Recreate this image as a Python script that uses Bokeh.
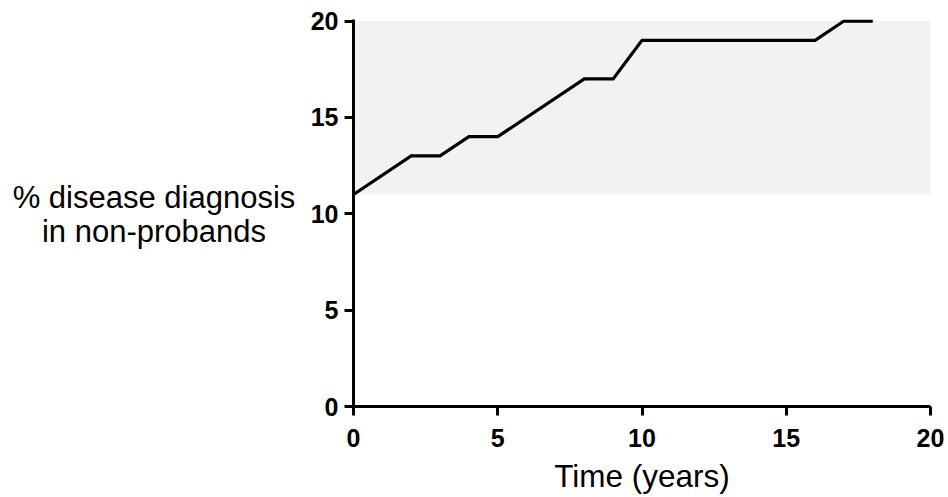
from bokeh.plotting import figure
from bokeh.models import Range1d, FixedTicker
from bokeh.layouts import row
from bokeh.core.properties import value
from bokeh.embed import file_html
from bokeh.resources import INLINE

# Data
time_years = [0, 2, 3, 4, 5, 8, 9, 10, 16, 17, 18]
pct_diagnosis = [11, 13, 13, 14, 14, 17, 17, 19, 19, 20, 20]
band_x = [0, 20]
band_lower = [11, 11]
band_upper = [20, 20]
x_ticks = [0, 5, 10, 15, 20]
y_ticks = [0, 5, 10, 15, 20]
y_title_lines = ["% disease diagnosis", "in non-probands"]

FONT = "Liberation Sans"

p = figure(width=648, height=497, output_backend="svg", toolbar_location=None,
           x_range=Range1d(0, 20), y_range=Range1d(0, 20.08),
           min_border_left=53, min_border_right=18, min_border_top=19, min_border_bottom=91)
p.outline_line_color = None
p.xgrid.visible = False
p.ygrid.visible = False
p.background_fill_color = "white"
p.border_fill_color = "white"

p.varea(x=band_x, y1=band_lower, y2=band_upper, fill_color="#f2f2f2", fill_alpha=1.0)
p.line(time_years, pct_diagnosis, line_color="black", line_width=3.2, line_join="miter")

for ax, ticks in ((p.xaxis, x_ticks), (p.yaxis, y_ticks)):
    ax.ticker = FixedTicker(ticks=ticks)
    ax.axis_line_width = 3
    ax.axis_line_color = "black"
    ax.major_tick_line_width = 3
    ax.major_tick_line_color = "black"
    ax.major_tick_out = 9
    ax.major_tick_in = 0
    ax.minor_tick_line_color = None
    ax.major_label_text_font = FONT
    ax.major_label_text_font_style = "bold"
    ax.major_label_text_font_size = "25px"
    ax.major_label_text_color = "black"

p.xaxis.major_label_standoff = 13
p.yaxis.major_label_standoff = 6
p.xaxis.axis_label = "Time (years)"
p.xaxis.axis_label_text_font = FONT
p.xaxis.axis_label_text_font_style = "normal"
p.xaxis.axis_label_text_font_size = "31.5px"
p.xaxis.axis_label_text_color = "black"
p.xaxis.axis_label_standoff = 8

# Left panel holding the horizontal y-axis title
left = figure(width=300, height=497, output_backend="svg", toolbar_location=None,
              x_range=Range1d(0, 300), y_range=Range1d(0, 497),
              min_border_left=0, min_border_right=0, min_border_top=0, min_border_bottom=0)
left.axis.visible = False
left.grid.visible = False
left.outline_line_color = None
left.text(x=[153.5, 153.5], y=[269, 225], text=y_title_lines,
          text_font=value(FONT), text_font_size="31px", text_align="center",
          text_baseline="alphabetic", text_color="black")

layout = row(left, p, spacing=0)
open("out.html", "w").write(file_html(layout, INLINE))
